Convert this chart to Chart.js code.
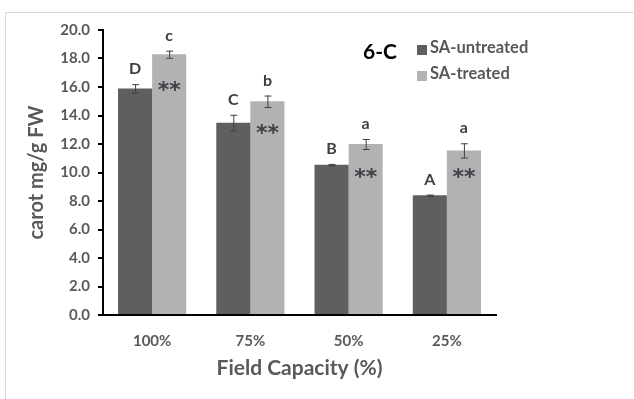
<!DOCTYPE html>
<html>
<head>
<meta charset="utf-8">
<script src="https://cdn.jsdelivr.net/npm/chart.js@4/dist/chart.umd.min.js"></script>
<style>
  html, body { margin: 0; padding: 0; background: #fff; }
  #wrap { width: 634px; height: 399px; position: relative; }
</style>
</head>
<body>
<div id="wrap"><canvas id="myChart" width="634" height="399"></canvas></div>
<script>
'use strict'
// data
let fieldCapacity = ['100%', '75%', '50%', '25%'];
let untreated = [15.9, 13.5, 10.55, 8.4];
let untreatedErr = [0.3, 0.55, 0.05, 0.05];
let treated = [18.3, 15.0, 12.0, 11.55];
let treatedErr = [0.25, 0.4, 0.35, 0.5];
let untreatedLetters = ['D', 'C', 'B', 'A'];
let treatedLetters = ['c', 'b', 'a', 'a'];
let starLevels = [16.1, 13.1, 10.0, 10.0];   // where the ** sit inside the light bars
let yTicks = [0, 2, 4, 6, 8, 10, 12, 14, 16, 18, 20];

let darkGrey = '#5f5f5f';
let lightGrey = '#b2b2b2';
let textGrey = '#595959';
let font = 'Lato, "Open Sans", sans-serif';

// frame, error bars, letters, ** and the legend
let extras = {
  id: 'extras',
  beforeDraw(chart) {
    let c = chart.ctx;
    c.save();
    c.fillStyle = '#fff';
    c.fillRect(0, 0, chart.width, chart.height);
    c.strokeStyle = '#d9d9d9';
    c.lineWidth = 1;
    c.strokeRect(5.5, 12.5, 800, 600);
    c.restore();
  },
  afterDatasetsDraw(chart) {
    let c = chart.ctx;
    let y = chart.scales.y;
    let errs = [untreatedErr, treatedErr];
    let letters = [untreatedLetters, treatedLetters];
    c.save();
    chart.data.datasets.forEach(function (ds, d) {
      let meta = chart.getDatasetMeta(d);
      meta.data.forEach(function (bar, i) {
        let v = ds.data[i];
        let e = errs[d][i];
        let top = y.getPixelForValue(v + e);
        let bot = y.getPixelForValue(v - e);
        c.strokeStyle = '#404040';
        c.lineWidth = 1;
        c.beginPath();
        c.moveTo(bar.x + 0.5, top); c.lineTo(bar.x + 0.5, bot);
        c.moveTo(bar.x - 3, top + 0.5); c.lineTo(bar.x + 4, top + 0.5);
        c.moveTo(bar.x - 3, bot + 0.5); c.lineTo(bar.x + 4, bot + 0.5);
        c.stroke();

        c.fillStyle = '#3f3f3f';
        c.font = 'bold 16px ' + font;
        c.textAlign = 'center';
        c.textBaseline = 'middle';
        c.fillText(letters[d][i], bar.x, top - 15);

        if (d === 1) {
          c.fillStyle = '#404048';
          c.font = 'bold 22px "DejaVu Sans", sans-serif';
          c.fillText('**', bar.x, y.getPixelForValue(starLevels[i]) + 6);
        }
      });
    });

    // panel tag
    c.fillStyle = '#000';
    c.font = 'bold 21px ' + font;
    c.textAlign = 'left';
    c.textBaseline = 'middle';
    c.fillText('6-C', 363, 52);

    // legend
    let rows = [48, 74];
    chart.data.datasets.forEach(function (ds, d) {
      c.fillStyle = ds.backgroundColor;
      c.fillRect(417, rows[d] - 3, 10, 10);
      c.fillStyle = textGrey;
      c.font = 'bold 16.5px ' + font;
      c.fillText(ds.label, 430, rows[d]);
    });
    c.restore();
  }
};

let ctx = document.getElementById('myChart').getContext('2d');

let chart = new Chart(ctx, {
  type: 'bar',
  data: {
    labels: fieldCapacity,
    datasets: [
      {
        label: 'SA-untreated',
        backgroundColor: darkGrey,
        data: untreated
      },
      {
        label: 'SA-treated',
        backgroundColor: lightGrey,
        data: treated
      }
    ]
  },
  options: {
    responsive: false,
    animation: false,
    layout: { padding: { top: 30, right: 138, left: 25, bottom: 18 } },
    datasets: { bar: { categoryPercentage: 0.694, barPercentage: 1.0 } },
    plugins: {
      legend: { display: false },
      tooltip: { enabled: false }
    },
    scales: {
      x: {
        grid: { display: false },
        border: { display: true, color: '#000', width: 2 },
        ticks: {
          color: textGrey,
          padding: 9,
          font: { family: font, size: 15, weight: 'bold' }
        },
        title: {
          display: true,
          text: 'Field Capacity (%)',
          color: textGrey,
          padding: { top: 8, bottom: 0 },
          font: { family: font, size: 21, weight: 'bold' }
        },
        afterFit(scale) { scale.height = 66; }
      },
      y: {
        min: 0,
        max: 20,
        afterBuildTicks(scale) { scale.ticks = yTicks.map(v => ({ value: v })); },
        grid: { drawOnChartArea: false, color: '#000', tickLength: 5, lineWidth: 2 },
        border: { display: true, color: '#000', width: 2 },
        ticks: {
          color: textGrey,
          padding: 8,
          font: { family: font, size: 15, weight: 'bold' },
          callback: v => v.toFixed(1)
        },
        title: {
          display: true,
          text: 'carot mg/g FW',
          color: textGrey,
          padding: { top: 0, bottom: 0 },
          font: { family: font, size: 20, weight: 'bold' }
        },
        afterFit(scale) { scale.width = 78; }
      }
    }
  },
  plugins: [extras]
});
</script>
</body>
</html>
